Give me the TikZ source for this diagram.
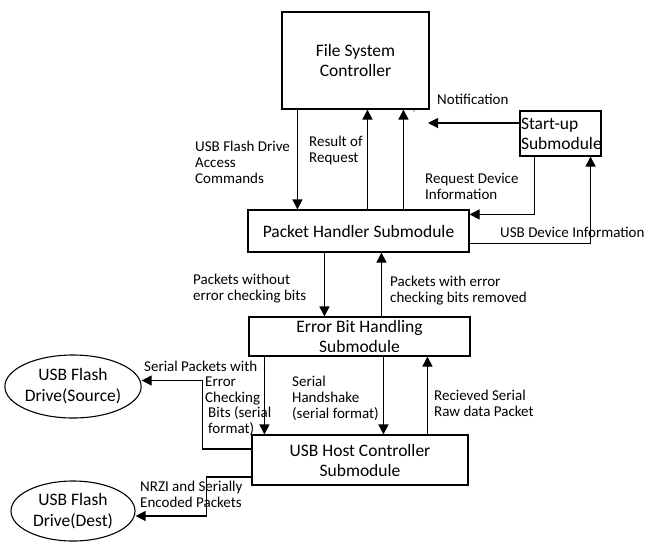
\documentclass[tikz,border=0pt]{standalone}
\usepackage{fontspec}
\setmainfont{Carlito}
\usetikzlibrary{arrows.meta,shapes.geometric}
\begin{document}
\begin{tikzpicture}[x=1pt,y=-1pt,
  box/.style={draw,line width=1.1pt,rectangle,inner sep=0pt,align=center,
    font=\fontsize{17.5}{20}\selectfont},
  oval/.style={draw,line width=1.1pt,ellipse,inner sep=0pt,align=center,
    font=\fontsize{17.5}{21}\selectfont},
  arr/.style={line width=1.1pt,-{Triangle[width=10pt,length=10pt]}},
  lbl/.style={anchor=north west,inner sep=0pt,align=left,
    font=\fontsize{15}{16}\selectfont}]
\useasboundingbox (0,0) rectangle (645,542);
\node[box,minimum width=147pt,minimum height=97pt] (fsc) at (355.5,60.5) {File System\\Controller};
\node[box,minimum width=81pt,minimum height=45pt,align=left,text width=79pt] (su) at (560.5,133.5) {Start-up\\Submodule};
\node[box,minimum width=221pt,minimum height=42pt] (ph) at (358.5,231) {Packet Handler Submodule};
\node[box,minimum width=221pt,minimum height=39pt,font=\fontsize{17.5}{19.5}\selectfont] (ebh) at (359.5,336.5) {Error Bit Handling\\Submodule};
\node[box,minimum width=216pt,minimum height=50pt] (usb) at (360,460) {USB Host Controller\\Submodule};
\node[oval,minimum width=124pt,minimum height=63pt] (src) at (73,386.5) {USB Flash\\Drive(Source)};
\node[oval,minimum width=124pt,minimum height=60pt] (dst) at (73,511) {USB Flash\\Drive(Dest)};
\coordinate (notif) at (428,123);
% FSC <-> PH
\draw[arr] ([xshift=16pt]fsc.south west) -- ([xshift=16pt]fsc.south west |- ph.north);
\draw[arr] ([xshift=120pt]ph.north west) -- ([xshift=120pt]ph.north west |- fsc.south);
\draw[arr] ([xshift=156pt]ph.north west) -- ([xshift=156pt]ph.north west |- fsc.south);
% startup
\draw[arr] (su.west |- notif) -- (notif);
\fill (414,111) circle (0.6pt);
\draw[arr] ([xshift=15pt]su.south west) |- ([yshift=-5pt]ph.north east);
\draw[arr] ([yshift=9pt]ph.south east) -| ([xshift=-11pt]su.south east);
% PH <-> EBH
\draw[arr] ([xshift=77pt]ph.south west) -- ([xshift=77pt]ph.south west |- ebh.north);
\draw[arr] ([xshift=133pt]ebh.north west) -- ([xshift=133pt]ebh.north west |- ph.south);
% EBH <-> USB
\draw[arr] ([xshift=16pt]ebh.south west) -- ([xshift=16pt]ebh.south west |- usb.north);
\draw[arr] ([xshift=135pt]ebh.south west) -- ([xshift=135pt]ebh.south west |- usb.north);
\draw[arr] ([xshift=176pt]usb.north west) -- ([xshift=176pt]usb.north west |- ebh.south);
% USB -> drives
\draw[arr] ([yshift=11pt]usb.west) -- ++(-49,0) |- ([yshift=6pt]src.east);
\draw[arr] ([yshift=-17pt]usb.west) -- ++(-45,0) |- ([yshift=-5pt]dst.east);
% labels
\node[lbl] (l1) at (195,141) {USB Flash Drive\\Access\\Commands};
\node[lbl] (l2) at (309,136) {Result of\\Request};
\node[lbl] (l3) at (437,94) {Notification};
\node[lbl] (l4) at (425,173) {Request Device\\Information};
\node[lbl] (l5) at (500,227) {USB Device Information};
\node[lbl] (l6) at (193,274) {Packets without\\error checking bits};
\node[lbl] (l7) at (390,276) {Packets with error\\checking bits removed};
\node[lbl] (l8) at (144,361) {Serial Packets with};
\node[lbl] (l9) at (205,377) {Error\\Checking};
\node[lbl] (l10) at (208,406) {Bits (serial\\format)};
\node[lbl] (l11) at (292,376) {Serial\\Handshake\\(serial format)};
\node[lbl] (l12) at (434,390) {Recieved Serial\\Raw data Packet};
\node[lbl] (l13) at (140,481) {NRZI and Serially\\Encoded Packets};
\end{tikzpicture}
\end{document}
